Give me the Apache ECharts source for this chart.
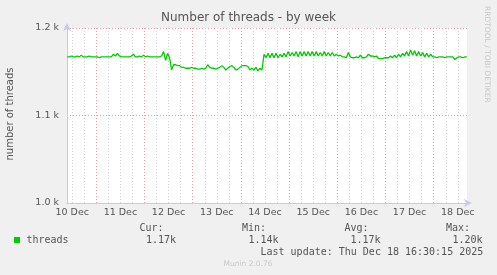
<!DOCTYPE html>
<html><head><meta charset="utf-8">
<script src="https://cdn.jsdelivr.net/npm/echarts@6/dist/echarts.min.js"></script>
<style>html,body{margin:0;padding:0;background:#f0f0f0;}#c{width:497px;height:275px;}</style>
</head><body><div id="c"></div>
<script>
// Time in hours since 10 Dec 00:00
const startHour = 9.5;
const stepHours = 1;
const threads = [
  1167,1167,1168,1167,1167,1168,1167,1169,1167,1167, 1167,1168,1167,1167,1167,1167,1166,1167,1167,1167,
  1167,1167,1167,1170,1168,1171,1168,1167,1167,1167, 1167,1167,1168,1170,1167,1167,1168,1167,1169,1167,
  1168,1167,1167,1167,1167,1167,1167,1168,1173,1163, 1171,1166,1152,1158,1158,1157,1157,1155,1155,1154,
  1154,1154,1155,1154,1154,1153,1153,1154,1153,1154, 1158,1155,1154,1154,1153,1154,1155,1157,1155,1152,
  1154,1156,1157,1155,1152,1153,1155,1157,1157,1157, 1156,1152,1154,1152,1155,1151,1154,1152,1170,1166,
  1171,1166,1171,1166,1171,1166,1170,1167,1171,1167, 1173,1168,1172,1168,1173,1167,1173,1168,1173,1168,
  1173,1168,1173,1168,1173,1168,1172,1168,1173,1168, 1172,1168,1172,1168,1170,1168,1169,1167,1167,1166,
  1172,1167,1166,1166,1167,1166,1169,1166,1166,1167, 1170,1168,1168,1167,1168,1165,1165,1165,1166,1166,
  1166,1168,1166,1169,1166,1170,1167,1171,1168,1173, 1168,1175,1169,1174,1168,1173,1168,1172,1167,1171,
  1167,1170,1167,1167,1166,1167,1167,1167,1166,1167, 1167,1167,1167,1164,1166,1167,1167,1166,1167,1167
];
const xMin = 9.41, xMax = 208.58;
const dayLabels = ['10 Dec','11 Dec','12 Dec','13 Dec','14 Dec','15 Dec','16 Dec','17 Dec','18 Dec'];
const midnights = [24,48,72,96,120,144,168,192];
const noons = [12,36,60,84,108,132,156,180,204];
const sixHourTicks = [12,18,30,36,42,54,60,66,78,84,90,102,108,114,126,132,138,150,156,162,174,180,186,198,204];
const legendHeads = ['Cur:','Min:','Avg:','Max:'];
const legendVals = ['1.17k','1.14k','1.17k','1.20k'];
const lastUpdate = 'Last update: Thu Dec 18 16:30:15 2025';

const seriesData = threads.map((v,i)=>[startHour + i*stepHours, v]);
const mono = 'DejaVu Sans Mono';
const sans = 'DejaVu Sans';
const headX = [139.5, 242, 344.5, 446];
const valX = [146, 248.5, 350.5, 452.5];

const chart = echarts.init(document.getElementById('c'), null, {renderer:'canvas'});
const graphics = [
  {type:'text', left:'center', top:12, style:{text:'Number of threads - by week', font:'12px '+sans, fill:'#555'}},
  {type:'text', x:10, y:114, rotation:Math.PI/2, style:{text:'number of threads', font:'10px '+sans, fill:'#555', align:'center', verticalAlign:'middle'}},
  {type:'text', x:487, y:6, rotation:-Math.PI/2, style:{text:'RRDTOOL / TOBI OETIKER', font:'7.5px '+sans, fill:'#c8c8c8', align:'left', verticalAlign:'middle'}},
  {type:'rect', shape:{x:14, y:237, width:6, height:6}, style:{fill:'#00cc00'}},
  {type:'text', x:26.5, y:240, style:{text:'threads', font:'10px '+mono, fill:'#555', verticalAlign:'middle'}},
  {type:'text', x:260.5, y:252, style:{text:lastUpdate, font:'10px '+mono, fill:'#555', verticalAlign:'middle'}},
  {type:'text', x:248, y:264, style:{text:'Munin 2.0.76', font:'7.5px '+sans, fill:'#c8c8c8', align:'center', verticalAlign:'middle'}}
];
legendHeads.forEach((t,i)=>graphics.push({type:'text', x:headX[i], y:228, style:{text:t, font:'10px '+mono, fill:'#555', verticalAlign:'middle'}}));
legendVals.forEach((t,i)=>graphics.push({type:'text', x:valX[i], y:240, style:{text:t, font:'10px '+mono, fill:'#555', verticalAlign:'middle'}}));

const axisCol = '#c8c8f0';
chart.setOption({
  backgroundColor:'#f0f0f0',
  animation:false,
  grid:{left:67, right:30, top:28, bottom:72, show:true, backgroundColor:'#ffffff', borderWidth:0},
  xAxis:[
    {type:'value', min:xMin, max:xMax,
     axisLine:{show:true, lineStyle:{color:axisCol, width:1}, symbol:['none','arrow'], symbolSize:[6,8], symbolOffset:[0,5]},
     axisTick:{show:false, customValues:sixHourTicks},
     axisLabel:{show:true, customValues:noons, margin:5, color:'#555', fontFamily:sans, fontSize:9.5,
       formatter:(v)=>dayLabels[noons.indexOf(Math.round(v))] || ''},
     splitLine:{show:true, lineStyle:{color:'#d4d4d4', width:1, type:[1,2]}}},
    {type:'value', min:xMin, max:xMax, position:'bottom',
     axisLine:{show:false}, axisTick:{show:false, customValues:midnights}, axisLabel:{show:false},
     splitLine:{show:true, lineStyle:{color:'#eaa0a0', width:1, type:[1,2]}}}
  ],
  yAxis:{type:'value', min:1000, max:1200, interval:100,
    axisLine:{show:true, lineStyle:{color:axisCol, width:1}, symbol:['none','arrow'], symbolSize:[6,8], symbolOffset:[0,5]},
    axisTick:{show:false},
    axisLabel:{margin:8, color:'#555', fontFamily:sans, fontSize:9.5, formatter:(v)=>(v/1000).toFixed(1)+' k'},
    splitLine:{show:true, lineStyle:{color:'#eaa0a0', width:1, type:[1,2]}}},
  series:[{type:'line', xAxisIndex:0, data:seriesData, showSymbol:false, lineStyle:{color:'#00cc00', width:1.3}, z:5}],
  graphic:graphics
});
</script></body></html>
